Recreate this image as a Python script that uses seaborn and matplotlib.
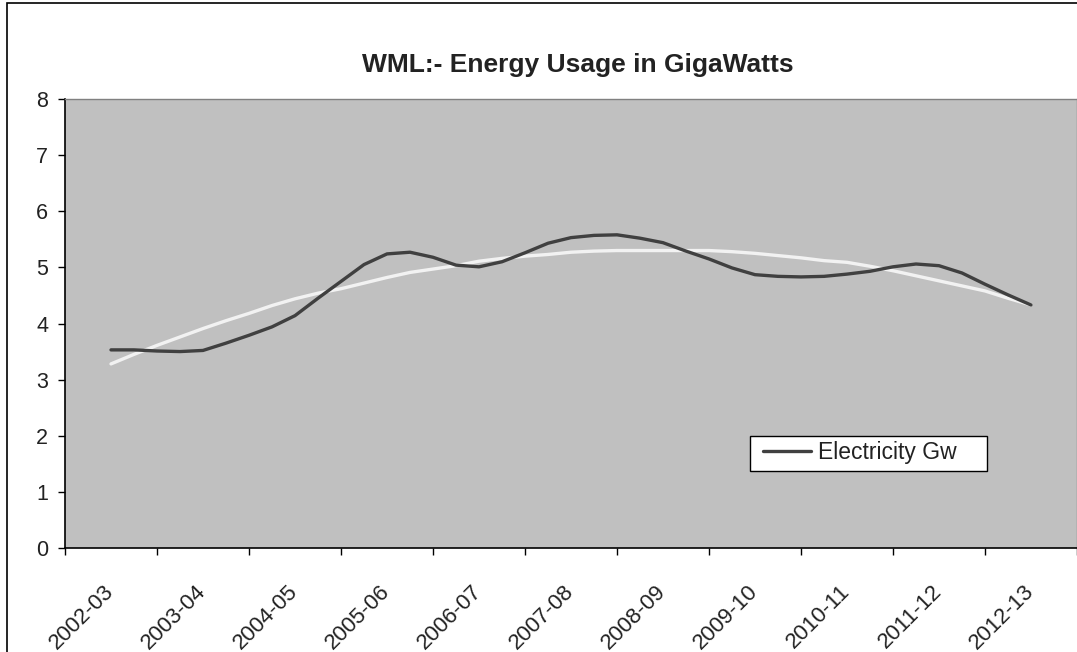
import numpy as np
import pandas as pd
import matplotlib
matplotlib.use('Agg')
import matplotlib.pyplot as plt
from matplotlib.patches import Rectangle
from matplotlib.transforms import ScaledTranslation
import seaborn as sns

# financial years on the category axis
years = ['2002-03', '2003-04', '2004-05', '2005-06', '2006-07', '2007-08',
         '2008-09', '2009-10', '2010-11', '2011-12', '2012-13']

# position along the axis, in years since 2002-03 (quarterly readings)
period = [0.0, 0.25, 0.5, 0.75, 1.0, 1.25, 1.5, 1.75, 2.0, 2.25, 2.5, 2.75,
          3.0, 3.25, 3.5, 3.75, 4.0, 4.25, 4.5, 4.75, 5.0, 5.25, 5.5, 5.75,
          6.0, 6.25, 6.5, 6.75, 7.0, 7.25, 7.5, 7.75, 8.0, 8.25, 8.5, 8.75,
          9.0, 9.25, 9.5, 9.75, 10.0]

# electricity usage (GW)
electricity = [3.53, 3.53, 3.51, 3.50, 3.52, 3.65, 3.79, 3.94, 4.14, 4.45,
               4.75, 5.05, 5.24, 5.27, 5.18, 5.04, 5.01, 5.10, 5.26, 5.43,
               5.53, 5.57, 5.58, 5.52, 5.44, 5.29, 5.15, 4.99, 4.87, 4.84,
               4.83, 4.84, 4.88, 4.93, 5.01, 5.06, 5.03, 4.90, 4.70, 4.51,
               4.33]

# trend line
trend = [3.28, 3.45, 3.61, 3.76, 3.91, 4.05, 4.18, 4.32, 4.44, 4.54,
         4.62, 4.72, 4.82, 4.91, 4.97, 5.03, 5.11, 5.16, 5.20, 5.23,
         5.27, 5.29, 5.30, 5.30, 5.30, 5.30, 5.30, 5.28, 5.25, 5.21,
         5.17, 5.12, 5.09, 5.02, 4.94, 4.85, 4.76, 4.67, 4.58, 4.45,
         4.33]

df = pd.DataFrame({'period': period, 'Electricity Gw': electricity, 'trend': trend})

sns.set_style('white')
plt.rcParams['font.family'] = ['Liberation Sans', 'DejaVu Sans']

fig = plt.figure(figsize=(10.77, 6.52), dpi=100)
ax = fig.add_axes([65 / 1077, 1 - 548 / 652, 1 - 65 / 1077, (548 - 99) / 652])
ax.set_facecolor('#c0c0c0')

sns.lineplot(data=df, x='period', y='trend', ax=ax, color='#f2f2f2', linewidth=2.4,
             label='_nolegend_')
sns.lineplot(data=df, x='period', y='Electricity Gw', ax=ax, color='#404040',
             linewidth=2.4, label='Electricity Gw')

ax.set_xlim(-0.5, 10.5)
ax.set_ylim(0, 8)
ax.set_yticks(range(0, 9))
ax.set_xticks(np.arange(-0.5, 11, 1))
ax.set_xticklabels([])
ax.set_xticks(range(len(years)), minor=True)
ax.set_xticklabels(years, minor=True, rotation=45, ha='right', va='center',
                   rotation_mode='anchor', fontsize=16, color='#222222')
shift = ScaledTranslation(-11 / 100, 0, fig.dpi_scale_trans)
for lab in ax.get_xticklabels(minor=True):
    lab.set_transform(lab.get_transform() + shift)
ax.tick_params(axis='x', which='major', direction='out', length=5, width=1,
               color='black', bottom=True)
ax.tick_params(axis='x', which='minor', length=0, pad=29)
ax.tick_params(axis='y', direction='out', length=5, width=1, color='black',
               left=True, labelsize=15.5, labelcolor='#222222', pad=7)
ax.set_xlabel('')
ax.set_ylabel('')

for side in ['left', 'bottom']:
    ax.spines[side].set_color('black')
    ax.spines[side].set_linewidth(1.2)
for side in ['top', 'right']:
    ax.spines[side].set_color('#808080')
    ax.spines[side].set_linewidth(1)

# legend box drawn separately (Excel pads it wider than its content)
ax.add_patch(Rectangle((0.6769, 0.1715), 0.2342, 0.078, transform=ax.transAxes,
                       facecolor='white', edgecolor='black', linewidth=1,
                       zorder=4))
leg = ax.legend(loc='center left', bbox_to_anchor=(0.6897, 0.2116),
                fontsize=16.5, frameon=False, handlelength=2.1,
                handletextpad=0.28, borderpad=0, borderaxespad=0)
for text in leg.get_texts():
    text.set_color('#222222')

fig.text(578 / 1077, 1 - 65 / 652, 'WML:- Energy Usage in GigaWatts', ha='center',
         va='center', fontsize=19, fontweight='bold', color='#222222')

# chart area border (cropped on the right and bottom)
fig.patches.append(Rectangle((7 / 1077, -0.1), 1.2, 1 - 3 / 652 + 0.1,
                             transform=fig.transFigure, fill=False,
                             edgecolor='black', linewidth=1.2))

fig.savefig('out.png', dpi=100)
